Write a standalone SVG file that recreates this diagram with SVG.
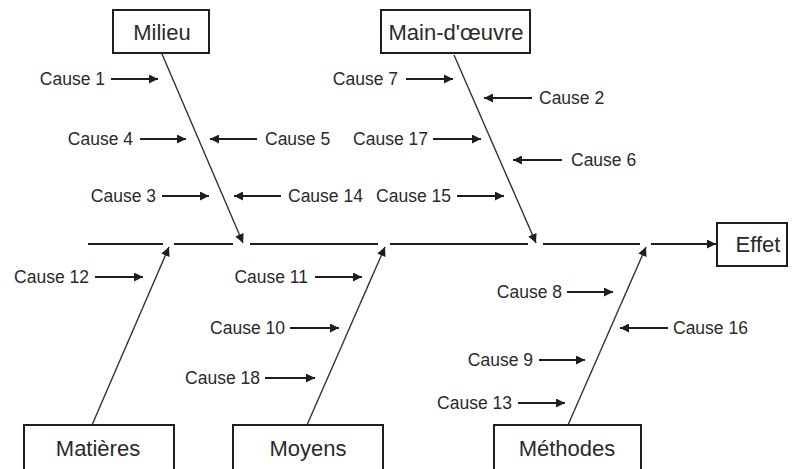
<svg xmlns="http://www.w3.org/2000/svg" width="794" height="469" viewBox="0 0 794 469">
<defs>
<marker id="ah" viewBox="0 0 10 10" refX="10" refY="5" markerWidth="11" markerHeight="9" markerUnits="userSpaceOnUse" orient="auto">
<path d="M0,0 L10,5 L0,10 Z" fill="#1e1e1e"/>
</marker>
<style>
.box{fill:#fff;stroke:#1e1e1e;stroke-width:2}
.lbl{font-family:"Liberation Sans",Arial,sans-serif;font-size:22px;fill:#2a2a2a;text-anchor:middle;dominant-baseline:central}
.c{font-family:"Liberation Sans",Arial,sans-serif;font-size:17.5px;fill:#2a2a2a;dominant-baseline:central}
.ce{text-anchor:end}
.spine{stroke:#1e1e1e;stroke-width:2;fill:none}
.br{stroke:#333;stroke-width:1.4;fill:none}
.ca{stroke:#1e1e1e;stroke-width:1.8;fill:none;marker-end:url(#ah)}
</style>
</defs>
<rect width="794" height="469" fill="#fff"/>

<g id="connectors">
<line class="spine" x1="88" y1="244" x2="163" y2="244"/>
<line class="spine" x1="174" y1="244" x2="233" y2="244"/>
<line class="spine" x1="250" y1="244" x2="378" y2="244"/>
<line class="spine" x1="390" y1="244" x2="528" y2="244"/>
<line class="spine" x1="543" y1="244" x2="640" y2="244"/>
<line class="spine" x1="651" y1="244" x2="716" y2="244" marker-end="url(#ah)"/>
<line class="br" x1="162" y1="54" x2="243" y2="243" marker-end="url(#ah)"/>
<line class="br" x1="454" y1="55" x2="536" y2="243" marker-end="url(#ah)"/>
<line class="br" x1="92" y1="425" x2="169" y2="247" marker-end="url(#ah)"/>
<line class="br" x1="307" y1="425" x2="385" y2="247" marker-end="url(#ah)"/>
<line class="br" x1="568" y1="425" x2="646" y2="247" marker-end="url(#ah)"/>
<line class="ca" x1="111" y1="79" x2="158" y2="79"/>
<line class="ca" x1="140" y1="139" x2="186" y2="139"/>
<line class="ca" x1="257" y1="139" x2="210" y2="139"/>
<line class="ca" x1="162" y1="196" x2="209" y2="196"/>
<line class="ca" x1="281" y1="196" x2="234" y2="196"/>
<line class="ca" x1="406" y1="79" x2="453" y2="79"/>
<line class="ca" x1="532" y1="98" x2="484" y2="98"/>
<line class="ca" x1="433" y1="139" x2="481" y2="139"/>
<line class="ca" x1="562" y1="160" x2="513" y2="160"/>
<line class="ca" x1="457" y1="196" x2="504" y2="196"/>
<line class="ca" x1="95" y1="277" x2="143" y2="277"/>
<line class="ca" x1="315" y1="277" x2="362" y2="277"/>
<line class="ca" x1="290" y1="328" x2="339" y2="328"/>
<line class="ca" x1="265" y1="378" x2="315" y2="378"/>
<line class="ca" x1="567" y1="292" x2="613" y2="292"/>
<line class="ca" x1="668" y1="328" x2="620" y2="328"/>
<line class="ca" x1="539" y1="360" x2="585" y2="360"/>
<line class="ca" x1="518" y1="403" x2="565" y2="403"/>
</g>

<g id="milieu"><rect class="box" x="113" y="10" width="96" height="43"/><text class="lbl" x="162" y="32">Milieu</text></g>
<g id="main-oeuvre"><rect class="box" x="381" y="10" width="149" height="43"/><text class="lbl" x="456" y="32">Main-d'œuvre</text></g>
<g id="effet"><rect class="box" x="717" y="223" width="70" height="43"/><text class="lbl" x="758" y="244">Effet</text></g>
<g id="matieres"><rect class="box" x="24" y="425" width="150" height="50"/><text class="lbl" x="98" y="448">Matières</text></g>
<g id="moyens"><rect class="box" x="233" y="425" width="150" height="50"/><text class="lbl" x="308" y="448">Moyens</text></g>
<g id="methodes"><rect class="box" x="494" y="425" width="147" height="50"/><text class="lbl" x="567" y="448">Méthodes</text></g>

<g id="causes">
<text class="c ce" x="105" y="79">Cause 1</text>
<text class="c ce" x="133" y="139">Cause 4</text>
<text class="c" x="265" y="139">Cause 5</text>
<text class="c ce" x="156" y="196">Cause 3</text>
<text class="c" x="288" y="196">Cause 14</text>
<text class="c ce" x="398" y="79">Cause 7</text>
<text class="c" x="539" y="98">Cause 2</text>
<text class="c ce" x="428" y="139">Cause 17</text>
<text class="c" x="571" y="160">Cause 6</text>
<text class="c ce" x="451" y="196">Cause 15</text>
<text class="c ce" x="89" y="277">Cause 12</text>
<text class="c ce" x="308" y="277">Cause 11</text>
<text class="c ce" x="285" y="328">Cause 10</text>
<text class="c ce" x="260" y="378">Cause 18</text>
<text class="c ce" x="562" y="292">Cause 8</text>
<text class="c" x="673" y="328">Cause 16</text>
<text class="c ce" x="533" y="360">Cause 9</text>
<text class="c ce" x="512" y="403">Cause 13</text>
</g>
</svg>
